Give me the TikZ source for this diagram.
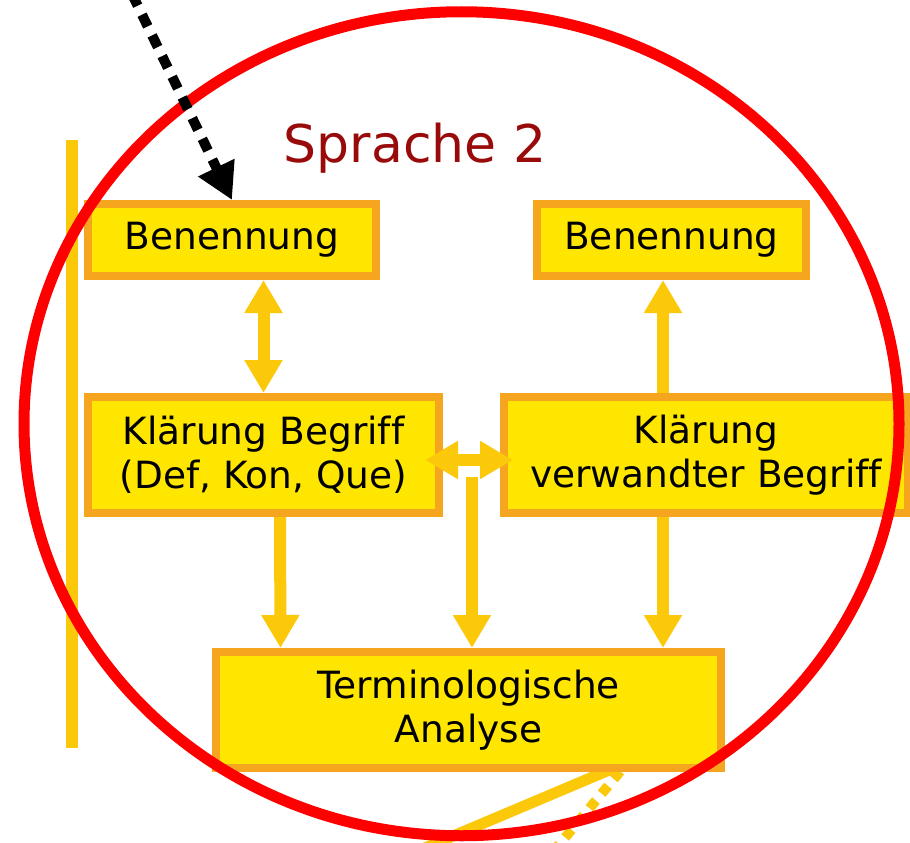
\documentclass[tikz,border=0pt]{standalone}
\usepackage{fontspec}
\setmainfont{DejaVu Sans}[Ligatures=NoCommon]
\usetikzlibrary{positioning,calc,arrows.meta}
\definecolor{boxfill}{RGB}{255,230,0}
\definecolor{boxline}{RGB}{246,166,30}
\definecolor{arrcol}{RGB}{252,200,10}
\definecolor{ringred}{RGB}{255,0,0}
\definecolor{titlered}{RGB}{153,10,10}
\tikzset{
    fat/.tip={Triangle[width=36pt,length=33pt]},
    box/.style={draw=boxline,fill=boxfill,line width=8pt,inner sep=0pt,
        align=center,font=\fontsize{37.5}{44}\selectfont},
    conn/.style={arrcol,line width=12pt},
}

\begin{document}
\begin{tikzpicture}[x=1pt,y=-1pt]
    \useasboundingbox (0,0) rectangle (910,843);
    % lines behind the boxes
    \coordinate (L0) at (72,140);
    \coordinate (L1) at (72,748);
    \coordinate (D0) at (420,850);
    \coordinate (D1) at (640,757);
    \coordinate (P0) at (553,852);
    \coordinate (P1) at (628,762);
    \draw[conn] (L0) -- (L1);
    \draw[conn,line width=11pt] (D0) -- (D1);
    \draw[conn,line width=10pt,dash pattern=on 10pt off 9pt] (P0) -- (P1);

    \node (title) [anchor=base,text=titlered,font=\fontsize{52}{60}\selectfont] at (415,162) {Sprache 2};
    \node (BenL) [box,minimum width=288pt,minimum height=72pt] at (232,240) {Benennung};
    \node (BenR) [box,minimum width=269pt,minimum height=72pt] at (671.5,240) {Benennung};
    \node (KlaL) [box,minimum width=351pt,minimum height=116pt] at (263.5,455) {Klärung Begriff\\(Def, Kon, Que)};
    \node (KlaR) [box,minimum width=404pt,minimum height=116pt] at (706,455) {Klärung\\verwandter Begriff};
    \node (Ana) [box,minimum width=505pt,minimum height=116pt] at (468.5,710) {Terminologische\\Analyse};

    \coordinate (T) at (472,477);
    \draw[conn]
        (KlaL.north |- BenL.south) edge[fat-fat] (KlaL.north)
        ($(KlaR.north)+(-43,0)$) edge[-fat] ($(KlaR.north |- BenR.south)+(-43,0)$)
        ($(KlaL.east)+(-18,5)$) edge[fat-fat] ($(KlaR.west)+(13,5)$)
        ($(KlaL.south)+(16.5,0)$) edge[-fat] ($(Ana.north)+(-188,0)$)
        (T) edge[-fat] (T |- Ana.north)
        ($(KlaR.south)+(-43,0)$) edge[-fat] ($(Ana.north)+(194.5,0)$);

    \draw[ringred,line width=11pt] (461.5,423.75) ellipse [x radius=437.5pt,y radius=412pt];

    \coordinate (src) at (132,-6);
    \draw[line width=10pt,dash pattern=on 13pt off 10pt,-{Triangle[width=38pt,length=36pt]}]
        (src) -- (BenL.north);
\end{tikzpicture}
\end{document}
